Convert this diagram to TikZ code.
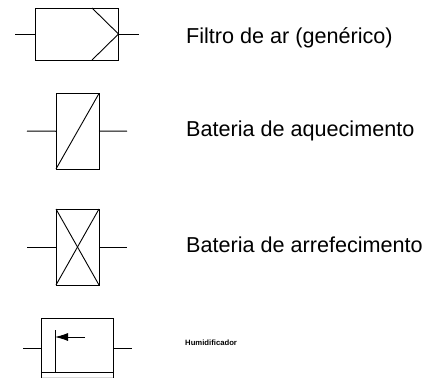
\documentclass[tikz,border=0pt]{standalone}
\usepackage{fontspec}
\setmainfont{Liberation Sans}
\usetikzlibrary{arrows.meta}
\tikzset{
  unitbox/.style={draw, line width=1pt, outer sep=0pt, inner sep=0pt},
  duct/.style={line width=1pt},
  thinline/.style={line width=0.9pt},
  unitlabel/.style={anchor=base west, inner sep=0pt, font=\fontsize{21.6}{24}\selectfont},
  smalllabel/.style={anchor=base west, inner sep=0pt, font=\bfseries\fontsize{7.7}{9}\selectfont}
}
\begin{document}
\begin{tikzpicture}[x=1pt, y=-1pt]
\useasboundingbox (0,0) rectangle (434,378);
% filtro
\node[unitbox, minimum width=83pt, minimum height=52pt] (filtro) at (77,34){};
\coordinate (filtroA) at (15,34);
\coordinate (filtroB) at (139,34);
\coordinate (filtroC) at (92,8);
\coordinate (filtroD) at (92,60);
\draw[duct](filtroA) -- (filtro.west);
\draw[duct](filtro.east) -- (filtroB);
\draw[thinline](filtroC) -- (filtro.east) -- (filtroD);
\node[unitlabel] (tid0) at (186,43){Filtro de ar (genérico)};
% aquecimento
\node[unitbox, minimum width=43pt, minimum height=75.5pt] (aquec) at (77.5,131.25){};
\coordinate (aquecA) at (27,131);
\coordinate (aquecB) at (127,131);
\draw[duct](aquecA) -- (aquec.west);
\draw[duct](aquec.east) -- (aquecB);
\draw[thinline](aquec.south west) -- (aquec.north east);
\node[unitlabel] (tid1) at (186,136){Bateria de aquecimento};
% arrefecimento
\node[unitbox, minimum width=43pt, minimum height=76pt] (arref) at (77.5,247){};
\coordinate (arrefA) at (27,247);
\coordinate (arrefB) at (127,247);
\draw[duct](arrefA) -- (arref.west);
\draw[duct](arref.east) -- (arrefB);
\draw[thinline](arref.south west) -- (arref.north east);
\draw[thinline](arref.north west) -- (arref.south east);
\node[unitlabel] (tid2) at (186,252){Bateria de arrefecimento};
% humidificador
\node[unitbox, minimum width=71.5pt, minimum height=54pt] (humid) at (77.25,345){};
\coordinate (humidA) at (23,348);
\coordinate (humidB) at (132,348);
\coordinate (humidC) at (55,330);
\coordinate (humidD) at (55,372);
\coordinate (humidE) at (85,337);
\coordinate (humidF) at (55,337);
\coordinate (humidG) at (41.5,377.5);
\coordinate (humidH) at (113,377.5);
\draw[duct](humidA) -- (humidA -| humid.west);
\draw[duct](humidB -| humid.east) -- (humidB);
\draw[thinline](humidC) -- (humidD);
\draw[thinline, -{Latex[length=13pt, width=8pt]}](humidE) -- (humidF);
\draw[thinline](humid.south west) -- (humidG);
\draw[thinline](humid.south east) -- (humidH);
\draw[thinline, black!15](humidG) -- (humidH);
\node[smalllabel] (tid3) at (185,345){Humidificador};
\end{tikzpicture}
\end{document}
